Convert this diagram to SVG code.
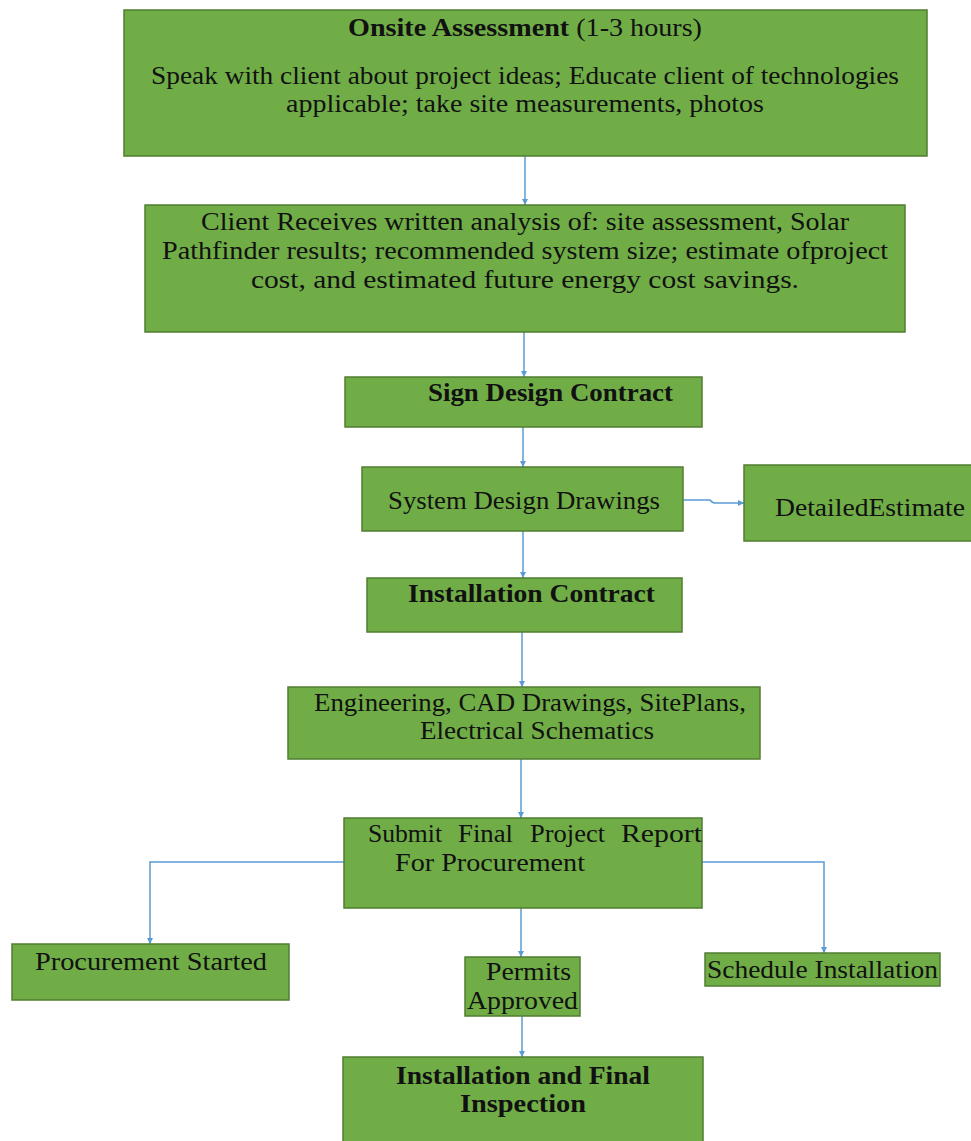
<svg xmlns="http://www.w3.org/2000/svg" width="971" height="1141" viewBox="0 0 971 1141">
<style>
.box{fill:#70AD47;stroke:#507E32;stroke-width:1.5}
.t{font-family:"Liberation Serif","DejaVu Serif",serif;font-size:25px;fill:#111}
.b{font-weight:bold}
.c{fill:none;stroke:#5B9BD5;stroke-width:1.5}
</style>
<defs>
<marker id="arr" markerWidth="8" markerHeight="8" refX="6" refY="4" orient="auto" markerUnits="userSpaceOnUse">
<path d="M0,1 L6,4 L0,7 z" fill="#5B9BD5"/>
</marker>
</defs>
<rect width="971" height="1141" fill="#fff"/>
<g id="connectors">
<path class="c" d="M525,156 V205" marker-end="url(#arr)"/>
<path class="c" d="M524,332 V377" marker-end="url(#arr)"/>
<path class="c" d="M523,427 V467" marker-end="url(#arr)"/>
<path class="c" d="M683,500 H710 Q712,503 716,503 H744" marker-end="url(#arr)"/>
<path class="c" d="M523,531 V578" marker-end="url(#arr)"/>
<path class="c" d="M522,632 V687" marker-end="url(#arr)"/>
<path class="c" d="M521,759 V818" marker-end="url(#arr)"/>
<path class="c" d="M344,862 H150 V944" marker-end="url(#arr)"/>
<path class="c" d="M702,862 H824 V953" marker-end="url(#arr)"/>
<path class="c" d="M521,908 V957" marker-end="url(#arr)"/>
<path class="c" d="M522,1016 V1057" marker-end="url(#arr)"/>
</g>
<g id="onsite">
<rect class="box" x="124" y="10" width="803" height="146"/>
<text class="t" x="525" y="36" text-anchor="middle" textLength="354" lengthAdjust="spacingAndGlyphs"><tspan class="b">Onsite Assessment</tspan> (1-3 hours)</text>
<text class="t" x="525" y="84" text-anchor="middle" textLength="748" lengthAdjust="spacingAndGlyphs">Speak with client about project ideas; Educate client of technologies</text>
<text class="t" x="525" y="112" text-anchor="middle" textLength="478" lengthAdjust="spacingAndGlyphs">applicable; take site measurements, photos</text>
</g>
<g id="analysis">
<rect class="box" x="145" y="205" width="760" height="127"/>
<text class="t" x="525" y="230" text-anchor="middle" textLength="648" lengthAdjust="spacingAndGlyphs">Client Receives written analysis of: site assessment, Solar</text>
<text class="t" x="525" y="259" text-anchor="middle" textLength="726" lengthAdjust="spacingAndGlyphs">Pathfinder results; recommended system size; estimate ofproject</text>
<text class="t" x="525" y="288" text-anchor="middle" textLength="548" lengthAdjust="spacingAndGlyphs">cost, and estimated future energy cost savings.</text>
</g>
<g id="sign">
<rect class="box" x="345" y="377" width="357" height="50"/>
<text class="t b" x="428" y="401" textLength="245" lengthAdjust="spacingAndGlyphs">Sign Design Contract</text>
</g>
<g id="sysdesign">
<rect class="box" x="362" y="467" width="321" height="64"/>
<text class="t" x="388" y="509" textLength="272" lengthAdjust="spacingAndGlyphs">System Design Drawings</text>
</g>
<g id="estimate">
<rect class="box" x="744" y="465" width="230" height="76"/>
<text class="t" x="775" y="516" textLength="190" lengthAdjust="spacingAndGlyphs">DetailedEstimate</text>
</g>
<g id="install">
<rect class="box" x="367" y="578" width="315" height="54"/>
<text class="t b" x="408" y="602" textLength="247" lengthAdjust="spacingAndGlyphs">Installation Contract</text>
</g>
<g id="engineering">
<rect class="box" x="288" y="687" width="472" height="72"/>
<text class="t" x="314" y="711" textLength="432" lengthAdjust="spacingAndGlyphs">Engineering, CAD Drawings, SitePlans,</text>
<text class="t" x="420" y="739" textLength="234" lengthAdjust="spacingAndGlyphs">Electrical Schematics</text>
</g>
<g id="submit">
<rect class="box" x="344" y="818" width="358" height="90"/>
<text class="t" y="842"><tspan x="368" textLength="74" lengthAdjust="spacingAndGlyphs">Submit</tspan><tspan x="458" textLength="55" lengthAdjust="spacingAndGlyphs">Final</tspan><tspan x="530" textLength="75" lengthAdjust="spacingAndGlyphs">Project</tspan><tspan x="621" textLength="81" lengthAdjust="spacingAndGlyphs">Report</tspan></text>
<text class="t" x="395" y="871" textLength="190" lengthAdjust="spacingAndGlyphs">For Procurement</text>
</g>
<g id="procurement">
<rect class="box" x="12" y="944" width="277" height="56"/>
<text class="t" x="35" y="970" textLength="232" lengthAdjust="spacingAndGlyphs">Procurement Started</text>
</g>
<g id="permits">
<rect class="box" x="465" y="957" width="115" height="59"/>
<text class="t" x="486" y="980" textLength="85" lengthAdjust="spacingAndGlyphs">Permits</text>
<text class="t" x="467" y="1009" textLength="111" lengthAdjust="spacingAndGlyphs">Approved</text>
</g>
<g id="schedule">
<rect class="box" x="705" y="953" width="235" height="33"/>
<text class="t" x="707" y="978" textLength="231" lengthAdjust="spacingAndGlyphs">Schedule Installation</text>
</g>
<g id="final">
<rect class="box" x="343" y="1057" width="360" height="90"/>
<text class="t b" x="523" y="1084" text-anchor="middle" textLength="254" lengthAdjust="spacingAndGlyphs">Installation and Final</text>
<text class="t b" x="523" y="1112" text-anchor="middle" textLength="126" lengthAdjust="spacingAndGlyphs">Inspection</text>
</g>
</svg>
